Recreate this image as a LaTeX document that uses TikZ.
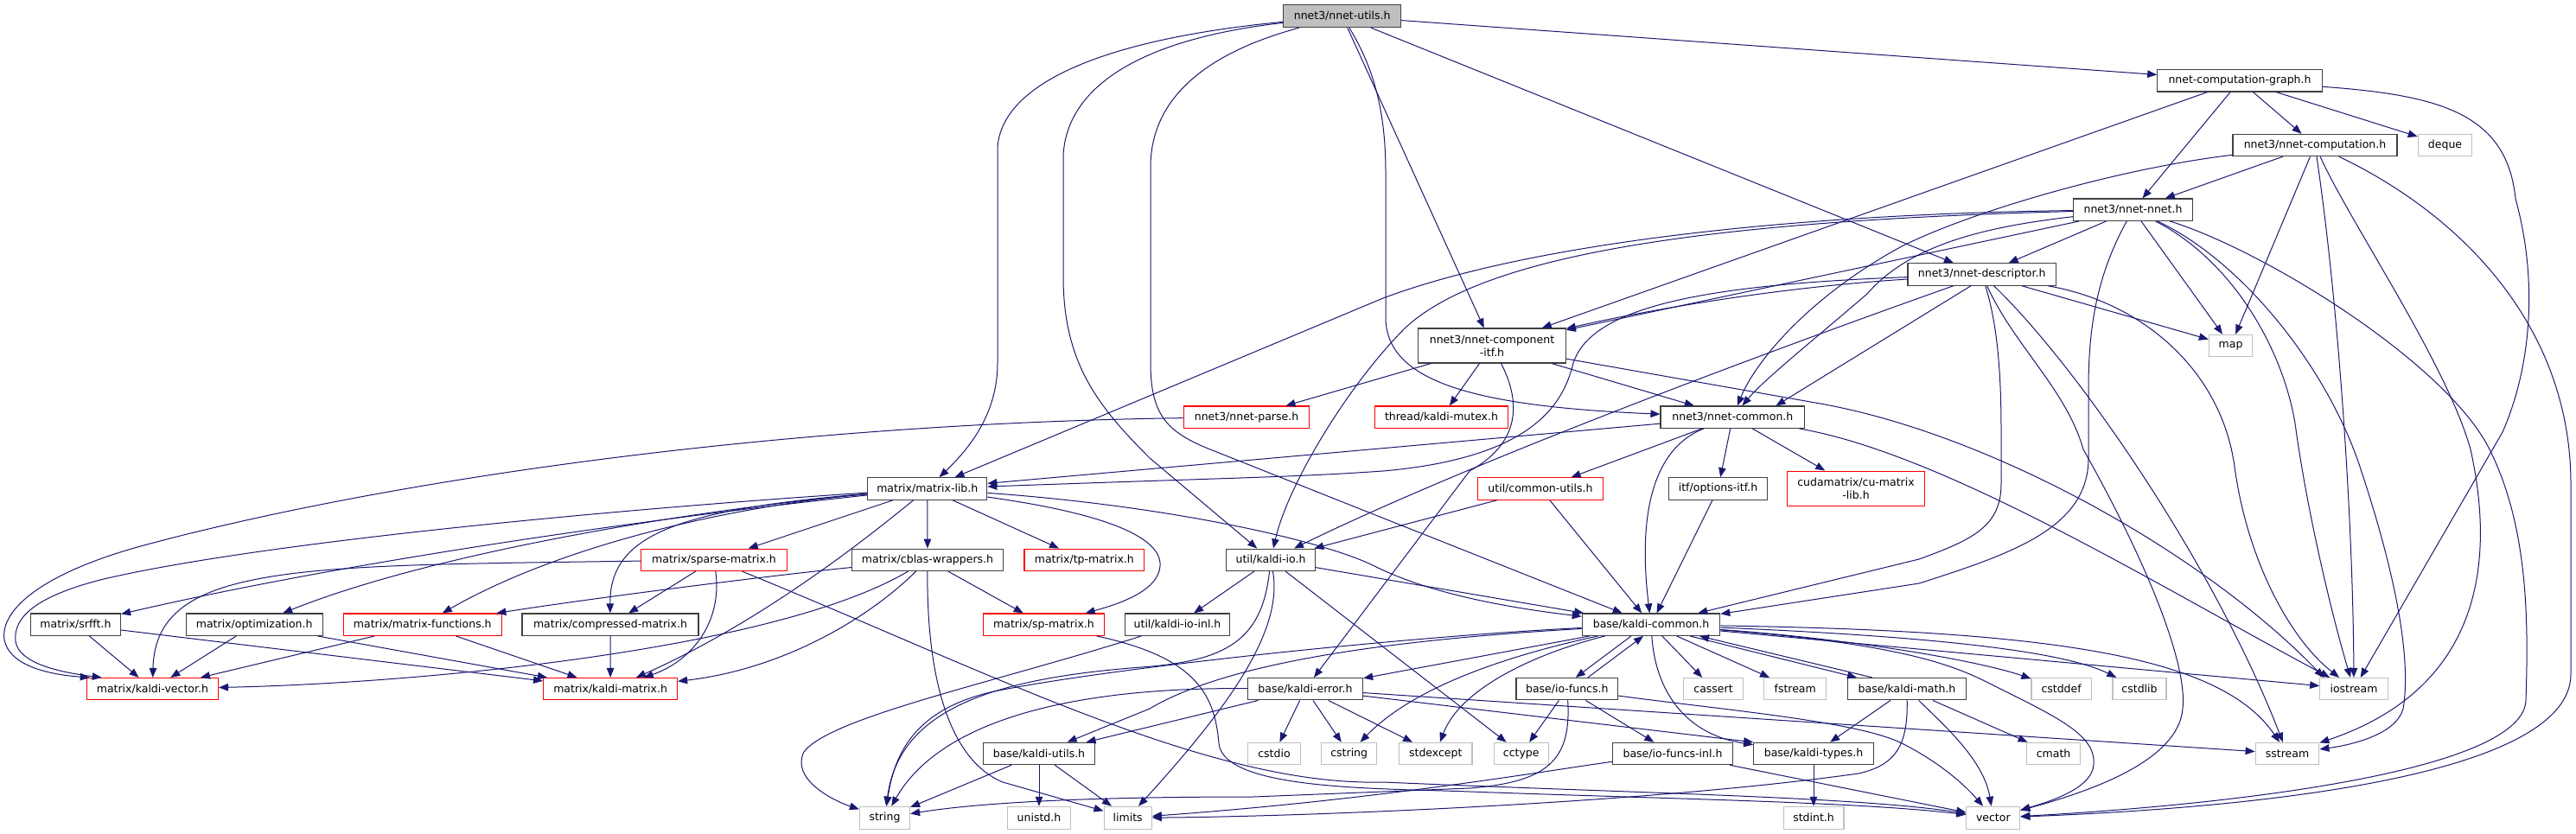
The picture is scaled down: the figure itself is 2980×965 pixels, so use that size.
\documentclass[tikz,border=0pt]{standalone}
\usepackage{fontspec}
\setmainfont{DejaVu Sans}
\usetikzlibrary{arrows.meta}
\definecolor{edgec}{RGB}{25,25,112}
\definecolor{boxdark}{RGB}{64,64,64}
\definecolor{boxgray}{RGB}{191,191,191}
\begin{document}
\begin{tikzpicture}[x=1pt,y=-1pt,
  nb/.style={rectangle,draw=boxdark,line width=1.1pt,fill=white,inner sep=0pt,minimum height=25.4pt,font=\fontsize{12.5}{15}\selectfont,align=center,text=black},
  sysb/.style={nb,draw=boxgray},
  trb/.style={nb,draw=red},
  curb/.style={nb,fill=boxgray},
  dep/.style={draw=edgec,line width=1pt,-{Triangle[length=11pt,width=8.5pt]}}]
\fill[white] (0,0) rectangle (2980,965);
\useasboundingbox (0,0) rectangle (2980,965);
% ---------------- nodes ----------------
\node[curb,minimum width=135.8pt,minimum height=26pt] (utils) at (1552.7,18.7) {nnet3/nnet-utils.h};
\node[nb,minimum width=190.5pt] (cgraph) at (2591,93.3) {nnet-computation-graph.h};
\node[nb,minimum width=190pt] (comp) at (2678,168) {nnet3/nnet-computation.h};
\node[sysb,minimum width=62.5pt] (deque) at (2828.5,168) {deque};
\node[nb,minimum width=138pt] (nnet) at (2467.5,242.7) {nnet3/nnet-nnet.h};
\node[nb,minimum width=171.5pt] (desc) at (2292.7,317.5) {nnet3/nnet-descriptor.h};
\node[sysb,minimum width=50.4pt] (map) at (2580.6,400) {map};
\node[nb,minimum width=170.6pt,minimum height=40pt] (citf) at (1726,400) {nnet3/nnet-component\\-itf.h};
\node[trb,minimum width=145.7pt] (parse) at (1442,482.7) {nnet3/nnet-parse.h};
\node[trb,minimum width=154pt] (mutex) at (1667.5,482.7) {thread/kaldi-mutex.h};
\node[nb,minimum width=166.8pt] (common) at (2004.4,482.7) {nnet3/nnet-common.h};
\node[nb,minimum width=138pt] (mlib) at (1072.8,565.5) {matrix/matrix-lib.h};
\node[trb,minimum width=145.4pt] (cutils) at (1782,565.5) {util/common-utils.h};
\node[nb,minimum width=113.4pt] (opitf) at (1987.5,565.5) {itf/options-itf.h};
\node[trb,minimum width=158.4pt,minimum height=40.3pt] (cumat) at (2147,565.2) {cudamatrix/cu-matrix\\-lib.h};
\node[trb,minimum width=168.2pt] (sparse) at (826,647.8) {matrix/sparse-matrix.h};
\node[nb,minimum width=174.5pt] (cblas) at (1073,647.8) {matrix/cblas-wrappers.h};
\node[trb,minimum width=138.6pt] (tp) at (1254.3,647.8) {matrix/tp-matrix.h};
\node[nb,minimum width=103pt] (kio) at (1470,647.8) {util/kaldi-io.h};
\node[nb,minimum width=104.2pt] (srfft) at (87.5,722.7) {matrix/srfft.h};
\node[nb,minimum width=158pt] (optim) at (294.2,722.7) {matrix/optimization.h};
\node[trb,minimum width=182.8pt] (mfun) at (488.8,722.7) {matrix/matrix-functions.h};
\node[nb,minimum width=204pt] (cmat) at (706,722.7) {matrix/compressed-matrix.h};
\node[trb,minimum width=140pt] (sp) at (1207.5,722.7) {matrix/sp-matrix.h};
\node[nb,minimum width=121.2pt] (kioinl) at (1362,722.7) {util/kaldi-io-inl.h};
\node[nb,minimum width=159.5pt] (kcommon) at (1910,722.7) {base/kaldi-common.h};
\node[trb,minimum width=152.2pt] (kvec) at (176.4,797.2) {matrix/kaldi-vector.h};
\node[trb,minimum width=155pt] (kmat) at (706.1,797.2) {matrix/kaldi-matrix.h};
\node[nb,minimum width=133.2pt] (kerr) at (1510,797.2) {base/kaldi-error.h};
\node[nb,minimum width=117.7pt] (iofuncs) at (1812.8,797.2) {base/io-funcs.h};
\node[sysb,minimum width=69pt] (cassert) at (1982,797.2) {cassert};
\node[sysb,minimum width=71.7pt] (fstream) at (2076.7,797.2) {fstream};
\node[nb,minimum width=137.6pt] (kmath) at (2206,797.2) {base/kaldi-math.h};
\node[sysb,minimum width=69.3pt] (cstddef) at (2384.6,797.2) {cstddef};
\node[sysb,minimum width=62pt] (cstdlib) at (2475,797.2) {cstdlib};
\node[sysb,minimum width=78.5pt] (iostream) at (2723,797.2) {iostream};
\node[nb,minimum width=129pt] (kutils) at (1202,872) {base/kaldi-utils.h};
\node[sysb,minimum width=60.4pt] (cstdio) at (1474,872) {cstdio};
\node[sysb,minimum width=64.4pt] (cstring) at (1560.7,872) {cstring};
\node[sysb,minimum width=84.4pt] (stdexcept) at (1660.8,872) {stdexcept};
\node[sysb,minimum width=63pt] (cctype) at (1759.7,872) {cctype};
\node[nb,minimum width=138.2pt] (iofinl) at (1935,872) {base/io-funcs-inl.h};
\node[nb,minimum width=138.6pt] (ktypes) at (2098,872) {base/kaldi-types.h};
\node[sysb,minimum width=62pt] (cmath) at (2375.6,872) {cmath};
\node[sysb,minimum width=73.7pt] (sstream) at (2646,872) {sstream};
\node[sysb,minimum width=58.1pt,minimum height=26pt] (string) at (1023.5,946.3) {string};
\node[sysb,minimum width=72.7pt,minimum height=26pt] (unistd) at (1202,946.3) {unistd.h};
\node[sysb,minimum width=55.3pt,minimum height=26pt] (limits) at (1304.7,946.3) {limits};
\node[sysb,minimum width=69.9pt,minimum height=26pt] (stdint) at (2098,946.3) {stdint.h};
\node[sysb,minimum width=62pt,minimum height=26pt] (vector) at (2305.8,946.3) {vector};
% ---------------- edges ----------------
% nnet-utils
\draw[dep] (utils) -- (cgraph);
\draw[dep] (utils) -- (desc);
\draw[dep] (utils) -- (citf);
\draw[dep] (utils) .. controls (1590,80) and (1603,130) .. (1603,200) -- (1603,370) .. controls (1606,440) and (1700,470) .. (common);
\draw[dep] (utils) .. controls (1280,45) and (1160,95) .. (1154,170) -- (1154,420) .. controls (1154,480) and (1120,520) .. (mlib);
\draw[dep] (utils) .. controls (1320,45) and (1234,100) .. (1230,180) -- (1230,320) .. controls (1230,420) and (1270,470) .. (1330,530) -- (kio);
\draw[dep] (utils) .. controls (1400,60) and (1333,110) .. (1331,190) -- (1331,420) .. controls (1331,480) and (1350,500) .. (1400,520) -- (kcommon);
% computation-graph
\draw[dep] (cgraph) -- (comp);
\draw[dep] (cgraph) -- (deque);
\draw[dep] (cgraph) -- (nnet);
\draw[dep] (cgraph) -- (citf);
\draw[dep] (cgraph) .. controls (2820,110) and (2900,130) .. (2910,230) .. controls (2935,320) and (2930,420) .. (2895,500) -- (iostream);
% computation
\draw[dep] (comp) -- (nnet);
\draw[dep] (comp) -- (map);
\draw[dep] (comp) .. controls (2450,195) and (2280,245) .. (2200,285) .. controls (2090,345) and (2030,420) .. (common);
\draw[dep] (comp) .. controls (2705,350) and (2722,600) .. (iostream);
\draw[dep] (comp) .. controls (2720,260) and (2830,420) .. (2858,520) .. controls (2880,620) and (2890,790) .. (sstream);
\draw[dep] (comp) .. controls (2850,250) and (2974,380) .. (2974,560) -- (2974,780) .. controls (2974,900) and (2600,935) .. (vector);
% nnet
\draw[dep] (nnet) -- (desc);
\draw[dep] (nnet) -- (map);
\draw[dep] (nnet) -- (citf);
\draw[dep] (nnet) .. controls (2050,248) and (1760,285) .. (1600,345) -- (mlib);
\draw[dep] (nnet) .. controls (2000,255) and (1720,290) .. (1625,380) .. controls (1560,445) and (1490,560) .. (kio);
\draw[dep] (nnet) .. controls (2300,262) and (2210,282) .. (2160,340) .. controls (2090,400) and (2040,440) .. (common);
\draw[dep] (nnet) .. controls (2425,320) and (2416,380) .. (2416,450) -- (2416,530) .. controls (2416,610) and (2330,640) .. (2220,675) -- (kcommon);
\draw[dep] (nnet) .. controls (2580,300) and (2640,400) .. (2655,490) .. controls (2670,600) and (2700,720) .. (iostream);
\draw[dep] (nnet) .. controls (2590,300) and (2690,420) .. (2730,540) .. controls (2770,660) and (2790,760) .. (2780,820) .. controls (2772,850) and (2720,862) .. (sstream);
\draw[dep] (nnet) .. controls (2620,290) and (2830,420) .. (2880,520) .. controls (2925,610) and (2925,720) .. (2922,810) .. controls (2920,890) and (2600,930) .. (vector);
% descriptor
\draw[dep] (desc) .. controls (2050,333) and (1900,360) .. (citf);
\draw[dep] (desc) .. controls (1950,330) and (1840,360) .. (1820,420) .. controls (1808,470) and (1770,530) .. (1600,545) .. controls (1500,552) and (1450,552) .. (mlib);
\draw[dep] ([xshift=-33pt]desc.south) .. controls (2050,405) and (1700,535) .. (kio);
\draw[dep] ([xshift=-12.7pt]desc.south) -- ([xshift=50pt]common.north);
\draw[dep] (desc) .. controls (2312,380) and (2315,440) .. (2315,500) -- (2315,560) .. controls (2315,610) and (2280,625) .. (2220,647) -- (kcommon);
\draw[dep] (desc) .. controls (2330,400) and (2390,450) .. (2410,520) .. controls (2500,680) and (2530,780) .. (2525,820) .. controls (2520,880) and (2420,915) .. (vector);
\draw[dep] (desc) .. controls (2400,420) and (2560,650) .. (sstream);
\draw[dep] (desc) -- (map);
\draw[dep] (desc) .. controls (2480,350) and (2570,430) .. (2585,540) .. controls (2600,650) and (2650,740) .. (iostream);
% component-itf
\draw[dep] (citf) -- (parse);
\draw[dep] (citf) -- (mutex);
\draw[dep] (citf) .. controls (1762,470) and (1755,515) .. (1700,545) -- (kerr);
\draw[dep] (citf) -- (common);
\draw[dep] (citf) -- (2100,466) .. controls (2300,500) and (2550,640) .. ([xshift=5pt]iostream.north west);
% nnet-common
\draw[dep] (common) -- (cutils);
\draw[dep] (common) -- (opitf);
\draw[dep] (common) -- (cumat);
\draw[dep] (common) .. controls (1910,520) and (1895,600) .. (kcommon);
\draw[dep] (common) -- (mlib);
\draw[dep] (common) .. controls (2250,525) and (2500,680) .. ([xshift=12pt]iostream.north west);
% nnet-parse
\draw[dep] (parse) .. controls (900,490) and (450,555) .. (170,630) .. controls (50,662) and (0,705) .. (5,740) .. controls (10,768) and (50,780) .. ([xshift=4pt]kvec.north west);
% matrix-lib
\draw[dep] (mlib) .. controls (700,590) and (300,628) .. (120,670) .. controls (40,690) and (15,715) .. (18,742) .. controls (22,768) and (70,778) .. ([xshift=18pt]kvec.north west);
\draw[dep] (mlib) .. controls (750,600) and (400,650) .. (srfft);
\draw[dep] (mlib) .. controls (800,590) and (500,640) .. (optim);
\draw[dep] (mlib) .. controls (850,585) and (650,630) .. (mfun);
\draw[dep] (mlib) .. controls (780,590) and (705,620) .. (cmat);
\draw[dep] (mlib) -- (sparse);
\draw[dep] (mlib) .. controls (1000,625) and (880,720) .. (kmat);
\draw[dep] (mlib) -- (cblas);
\draw[dep] (mlib) -- (tp);
\draw[dep] (mlib) .. controls (1250,590) and (1345,615) .. (1342,655) .. controls (1340,685) and (1290,700) .. (sp);
\draw[dep] (mlib) .. controls (1350,585) and (1530,625) .. (1590,655) .. controls (1660,690) and (1760,705) .. (kcommon);
% sparse-matrix
\draw[dep] (sparse) .. controls (350,655) and (180,650) .. (kvec);
\draw[dep] (sparse) -- (cmat);
\draw[dep] (sparse) .. controls (836,720) and (800,765) .. (kmat);
\draw[dep] (sparse) .. controls (1150,780) and (1400,910) .. (1600,905) .. controls (1900,918) and (2150,922) .. (vector);
% small matrix headers
\draw[dep] (cmat) -- (kmat);
\draw[dep] (mfun) -- (kvec);
\draw[dep] (mfun) -- (kmat);
\draw[dep] (optim) -- (kvec);
\draw[dep] (optim) -- (kmat);
\draw[dep] (srfft) -- (kvec);
\draw[dep] (srfft) -- (kmat);
% cblas-wrappers
\draw[dep] (cblas) .. controls (900,750) and (500,790) .. (kvec);
\draw[dep] (cblas) .. controls (1000,720) and (900,775) .. (kmat);
\draw[dep] (cblas) .. controls (900,665) and (700,690) .. (mfun);
\draw[dep] (cblas) -- (sp);
\draw[dep] (cblas) .. controls (1072,790) and (1100,880) .. (1160,905) -- (limits);
% sp-matrix
\draw[dep] (sp) .. controls (1380,760) and (1405,800) .. (1410,860) .. controls (1415,915) and (1600,912) .. (1700,916) .. controls (1950,925) and (2150,928) .. (vector);
% kaldi-io
\draw[dep] (kio) -- (kioinl);
\draw[dep] (kio) .. controls (1460,740) and (1420,765) .. (1320,772) .. controls (1150,785) and (1040,820) .. (string);
\draw[dep] (kio) .. controls (1485,730) and (1420,820) .. (limits);
\draw[dep] (kio) -- (cctype);
\draw[dep] (kio) -- (kcommon);
\draw[dep] (kioinl) .. controls (1150,790) and (960,830) .. (930,870) .. controls (915,900) and (960,925) .. (string);
% kaldi-utils
\draw[dep] (kutils) -- (string);
\draw[dep] (kutils) -- (unistd);
\draw[dep] (kutils) -- (limits);
% common-utils, options-itf
\draw[dep] (cutils) -- (kio);
\draw[dep] (cutils) -- (kcommon);
\draw[dep] (opitf) -- (kcommon);
% kaldi-common
\draw[dep] (kcommon) -- (kerr);
\draw[dep] (kcommon) .. controls (1650,735) and (1300,770) .. (1150,800) .. controls (1060,820) and (1035,870) .. (string);
\draw[dep] (kcommon) .. controls (1650,738) and (1430,760) .. (1330,820) -- (kutils);
\draw[dep] ([xshift=-23pt]kcommon.south) -- ([xshift=10pt]iofuncs.north);
\draw[dep] (kcommon) -- (cassert);
\draw[dep] (kcommon) -- (fstream);
\draw[dep] ([xshift=45pt]kcommon.south) -- ([xshift=-58pt]kmath.north);
\draw[dep] (kcommon) .. controls (1915,800) and (1950,850) .. (ktypes);
\draw[dep] (kcommon) .. controls (1780,755) and (1690,795) .. (stdexcept);
\draw[dep] (kcommon) .. controls (1760,755) and (1640,790) .. (cstring);
\draw[dep] (kcommon) .. controls (2150,740) and (2290,765) .. (cstddef);
\draw[dep] (kcommon) .. controls (2200,735) and (2380,750) .. (cstdlib);
\draw[dep] (kcommon) -- (iostream);
\draw[dep] (kcommon) .. controls (2380,730) and (2570,760) .. (sstream);
\draw[dep] (kcommon) .. controls (2200,745) and (2260,770) .. (2300,790) .. controls (2380,830) and (2425,850) .. (2422,885) .. controls (2420,910) and (2380,925) .. (vector);
% io-funcs
\draw[dep] ([xshift=24pt]iofuncs.north) -- ([xshift=-9pt]kcommon.south);
\draw[dep] (iofuncs) -- (cctype);
\draw[dep] (iofuncs) -- (iofinl);
\draw[dep] (iofuncs) .. controls (1818,880) and (1790,905) .. (1700,912) -- (1450,922) .. controls (1300,922) and (1150,926) .. (string);
\draw[dep] (iofuncs) .. controls (2000,822) and (2150,835) .. (2200,860) .. controls (2240,880) and (2270,905) .. (vector);
% kaldi-math
\draw[dep] ([xshift=-40pt]kmath.north) -- ([xshift=56pt]kcommon.south);
\draw[dep] (kmath) -- (ktypes);
\draw[dep] (kmath) -- (cmath);
\draw[dep] (kmath) .. controls (2250,840) and (2295,880) .. (vector);
\draw[dep] (kmath) .. controls (2207,860) and (2195,885) .. (2150,895) .. controls (1900,930) and (1500,945) .. (limits);
% kaldi-error
\draw[dep] (kerr) -- (cstdio);
\draw[dep] (kerr) -- (cstring);
\draw[dep] (kerr) -- (stdexcept);
\draw[dep] (kerr) -- (kutils);
\draw[dep] (kerr) .. controls (1250,795) and (1090,830) .. (string);
\draw[dep] (kerr) -- (ktypes.north west);
\draw[dep] (kerr) -- (sstream);
% io-funcs-inl, kaldi-types
\draw[dep] (iofinl) .. controls (1800,890) and (1600,925) .. (limits);
\draw[dep] (iofinl) -- (vector);
\draw[dep] (ktypes) -- (stdint);
\end{tikzpicture}
\end{document}
